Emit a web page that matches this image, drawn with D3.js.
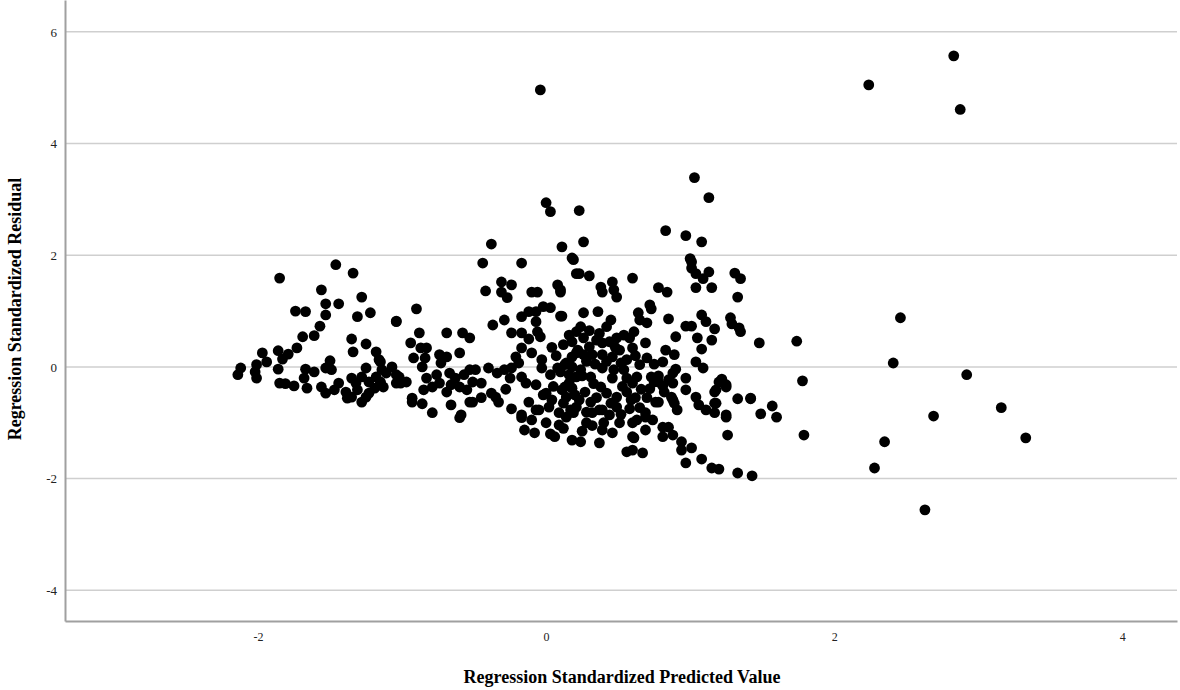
<!DOCTYPE html>
<html>
<head>
<meta charset="utf-8">
<script src="https://cdn.jsdelivr.net/npm/d3@7"></script>
<style>
  body { margin: 0; background: #fff; }
  svg { display: block; }
</style>
</head>
<body>
<script>
// scatter of standardized residuals vs standardized predicted values
var W = 1180, H = 690;
var xTicks = [-2, 0, 2, 4];
var yTicks = [-4, -2, 0, 2, 4, 6];
var xTitle = "Regression Standardized Predicted Value";
var yTitle = "Regression Standardized Residual";

// [predicted, residual]
var outliers = [[-0.04,4.96],[2.24,5.05],[2.83,5.57],[2.875,4.61],[1.74,0.46],[1.78,-0.25],[1.79,-1.22],
  [2.46,0.88],[2.41,0.07],[2.92,-0.14],[3.16,-0.73],[2.69,-0.88],[3.33,-1.27],[2.35,-1.34],[2.28,-1.81],[2.63,-2.56]];

var leftCluster = [[-1.85,1.59],[-1.46,1.83],[-1.34,1.68],[-1.56,1.38],[-1.28,1.25],[-1.53,1.13],[-1.44,1.13],
  [-1.74,1.00],[-1.67,0.99],[-1.53,0.93],[-1.31,0.90],[-1.22,0.97],[-1.04,0.81],[-1.57,0.73],[-1.61,0.56],
  [-1.69,0.54],[-1.35,0.50],[-1.25,0.41],[-1.73,0.34],[-1.34,0.27],[-1.18,0.27],[-1.97,0.25],[-1.86,0.29],
  [-1.79,0.23],[-1.94,0.09],[-1.83,0.14],[-1.86,-0.04],[-2.01,0.04],[-2.12,-0.02],[-2.14,-0.14],[-2.02,-0.09],
  [-2.01,-0.20],[-1.67,-0.04],[-1.61,-0.09],[-1.50,0.11],[-1.53,-0.02],[-1.49,-0.05],[-1.25,-0.02],[-1.15,0.09],
  [-1.07,0.00],[-1.04,-0.14],[-1.85,-0.29],[-1.81,-0.30],[-1.75,-0.34],[-1.68,-0.20],[-1.66,-0.38],[-1.56,-0.36],
  [-1.53,-0.47],[-1.47,-0.41],[-1.44,-0.29],[-1.35,-0.20],[-1.32,-0.29],[-1.28,-0.18],[-1.23,-0.27],[-1.18,-0.18],
  [-1.15,-0.29],[-1.39,-0.45],[-1.35,-0.54],[-1.28,-0.63],[-1.23,-0.47],[-1.19,-0.38],[-1.31,-0.41],[-1.11,-0.11],
  [-1.13,-0.36],[-1.25,-0.54],[-1.38,-0.56],[-1.04,-0.29]];

var centerCluster = [[-0.44,1.86],[-0.17,1.86],[-0.42,1.36],[-0.31,1.52],[-0.24,1.47],[-0.31,1.34],[-0.27,1.24],
  [-0.10,1.34],[-0.06,1.34],[0.08,1.47],[0.10,1.34],[0.19,1.92],[0.21,1.67],[-0.90,1.04],[-1.04,0.82],[-0.88,0.61],
  [-0.69,0.61],[-0.58,0.61],[-0.53,0.52],[-0.37,0.75],[-0.29,0.84],[-0.24,0.61],[-0.17,0.61],[-0.17,0.90],
  [-0.12,0.99],[-0.07,0.99],[-0.02,1.08],[0.03,1.06],[0.10,0.91],[-0.07,0.81],[-0.06,0.63],[-0.04,0.54],
  [0.16,0.57],[0.21,0.63],[-0.94,0.43],[-0.87,0.34],[-0.83,0.34],[-0.92,0.16],[-0.84,0.16],[-0.86,0.00],
  [-0.74,0.22],[-0.69,0.18],[-0.73,0.07],[-0.60,0.25],[-0.17,0.34],[-0.21,0.18],[-0.03,0.13],[-0.03,-0.02],
  [-1.16,0.13],[-1.14,-0.05],[-1.02,-0.18],[-0.97,-0.27],[-1.15,-0.27],[-1.01,-0.29],[-0.83,-0.20],
  [-0.76,-0.14],[-0.67,-0.11],[-0.74,-0.29],[-0.66,-0.32],[-0.63,-0.20],[-0.57,-0.14],[-0.53,-0.05],[-0.49,-0.05],
  [-0.45,-0.29],[-0.40,-0.02],[-0.34,-0.11],[-0.29,-0.05],[-0.24,-0.02],[-0.19,0.07],[-0.17,-0.18],[-0.14,-0.29],
  [-0.07,-0.32],[0.03,-0.14],[0.08,-0.02],[0.14,0.07],[0.18,0.18],[0.22,0.30],[-0.60,-0.36],[-0.55,-0.41],
  [-0.51,-0.27],[-0.93,-0.56],[-0.86,-0.66],[-0.79,-0.82],[-0.85,-0.41],[-0.79,-0.36],[-0.69,-0.45],[-0.66,-0.68],
  [-0.59,-0.86],[-0.51,-0.63],[-0.38,-0.47],[-0.33,-0.63],[-0.35,-0.54],[-0.17,-0.86],[-0.12,-0.63],[-0.07,-0.77],
  [0.00,-0.47],[0.04,-0.59],[0.11,-0.41],[0.16,-0.29],[0.21,-0.18],[0.09,-0.82],[0.17,-0.77],[0.14,-0.90],
  [-0.93,-0.63],[-0.60,-0.91],[-0.53,-0.63],[-0.17,-0.91],[-0.15,-1.13],[-0.08,-1.18],[-0.05,-0.77],[0.00,-1.00],
  [0.06,-1.25],[0.09,-1.04],[0.18,-1.31],[0.24,-1.34],[0.28,-1.00],[0.32,-0.82],[0.37,-1.36],[0.39,-1.13],
  [0.46,-1.18],[0.51,-1.00],[0.39,-0.77],[0.21,-0.72],[0.02,-0.72],
  [-0.02,-0.50],[0.05,-0.35],[0.12,-0.65],[0.20,-0.50],[0.27,-0.45],[0.33,-0.30],[0.35,-0.55],[0.45,-0.65],
  [0.52,-0.85],[0.58,-0.75],[0.62,-0.55],[0.53,-0.35],[0.47,-0.05],[0.42,0.10],[0.34,0.05],[0.28,0.10],
  [0.24,-0.05],[0.07,0.20],[0.04,0.35],[0.12,0.40],[0.30,0.65],[0.37,0.60],[0.48,0.35],[0.62,0.20],
  [0.75,0.05],[0.82,-0.45],[0.70,-0.55],[0.66,-0.40],[0.40,-1.00],[0.32,-1.05],[0.25,-1.15],[0.12,-1.10],
  [0.03,-1.20],[-0.10,-0.95],[-0.24,-0.75],[-0.28,-0.40],[-0.25,-0.20],[-0.45,-0.55],[-0.10,0.25],[-0.12,0.50]];

var upperCluster = [[-0.38,2.20],[0.00,2.94],[0.03,2.78],[0.23,2.80],[0.11,2.15],[0.26,2.24],[1.03,3.39],
  [1.13,3.03],[0.83,2.44],[0.97,2.35],[1.08,2.24],[1.00,1.94],[0.18,1.95],[0.23,1.67],[0.30,1.63],[0.38,1.43],
  [0.39,1.34],[0.46,1.52],[0.47,1.38],[0.49,1.25],[0.60,1.59],[0.78,1.42],[0.84,1.34],[1.01,1.88],[1.01,1.77],
  [1.04,1.67],[1.09,1.58],[1.13,1.70],[1.04,1.42],[1.15,1.42],[1.31,1.68],[1.35,1.58],[1.33,1.25]];

var rightCluster = [[0.10,1.38],[0.11,0.91],[0.26,0.97],[0.36,0.99],[0.45,0.84],[0.42,0.72],[0.24,0.72],
  [0.72,1.11],[0.73,1.04],[0.64,0.97],[0.65,0.84],[0.70,0.79],[0.85,0.86],[0.97,0.73],[1.01,0.73],[1.08,0.93],
  [1.11,0.81],[1.17,0.68],[1.28,0.88],[1.29,0.77],[1.34,0.70],[1.35,0.63],[1.48,0.43],[0.90,0.54],[1.05,0.52],
  [1.15,0.48],[1.08,0.32],[1.04,0.09],[1.09,-0.02],[0.90,-0.04],[0.83,0.30],[0.89,0.22],[0.81,0.09],[0.69,0.43],
  [0.70,0.16],[0.61,0.63],[0.58,0.52],[0.60,0.34],[0.18,0.45],[0.26,0.52],[0.30,0.36],[0.35,0.48],[0.39,0.43],
  [0.44,0.45],[0.49,0.52],[0.54,0.57],[0.51,0.30],[0.46,0.18],[0.39,0.22],[0.32,0.22],[0.26,0.22],[0.21,0.25],
  [0.13,0.04],[0.10,-0.09],[0.18,0.00],[0.16,-0.14],[0.25,-0.16],[0.31,-0.18],[0.39,-0.02],[0.52,0.07],
  [0.56,0.13],[0.65,0.04],[0.54,-0.05],[0.46,-0.20],[0.56,-0.20],[0.63,-0.18],[0.73,-0.18],[0.78,-0.16],
  [0.75,-0.27],[0.88,-0.11],[0.85,-0.23],[0.97,-0.20],[0.97,-0.41],[0.72,-0.39],[0.81,-0.34],[0.76,-0.63],
  [0.87,-0.54],[0.89,-0.65],[1.04,-0.54],[1.18,-0.41],[1.22,-0.22],[1.25,-0.32],[1.17,-0.65],[1.33,-0.57],
  [1.42,-0.56],[1.25,-0.86],[0.38,-0.36],[0.42,-0.47],[0.49,-0.54],[0.56,-0.45],[0.59,-0.59],[0.49,-0.72],
  [0.31,-0.63],[0.23,-0.59],[0.18,-0.38],[0.13,-0.36],[0.14,-0.54],[0.28,-0.81],[0.37,-0.77],[0.44,-0.86],
  [0.65,-0.73],[0.69,-0.90],[0.19,-0.82],[0.56,-1.52],[0.60,-1.49],[0.67,-1.54],[0.60,-1.25],[0.63,-0.95],
  [0.69,-0.82],[1.42,-0.57],[1.49,-0.84],[1.57,-0.70],[1.60,-0.90],[1.25,-0.90],[1.26,-1.22],[1.33,-1.90],
  [1.43,-1.95],[1.20,-1.83],[1.15,-1.81],[1.08,-1.65],[0.97,-1.72],[1.01,-1.45],[0.94,-1.49],[0.94,-1.34],
  [0.88,-1.22],[0.81,-1.25],[0.61,-1.27],[0.69,-1.13],[0.74,-0.95],[0.81,-1.08],[0.85,-1.08],[0.78,-0.63],
  [0.88,-0.59],[0.91,-0.77],[1.06,-0.68],[1.11,-0.77],[1.17,-0.82],[1.18,-0.65],[1.17,-0.45],[1.25,-0.36],
  [1.20,-0.27],[0.88,-0.29],[0.78,-0.27],[0.60,-0.29],[0.60,-1.00]];

var points = outliers.concat(leftCluster, centerCluster, upperCluster, rightCluster);

var svg = d3.select("body").append("svg")
  .attr("width", W)
  .attr("height", H);

var x = d3.scaleLinear().domain([-3.34, 4.38]).range([65, 1177]);
var y = d3.scaleLinear().domain([-4.55, 6.57]).range([621, 0]);

// horizontal gridlines
svg.append("g").selectAll("line").data(yTicks).enter().append("line")
  .attr("x1", x.range()[0]).attr("x2", x.range()[1])
  .attr("y1", function(d) { return y(d) }).attr("y2", function(d) { return y(d) })
  .attr("stroke", "#cfcfcf").attr("stroke-width", 1.5);

// plain hyphen minus like the original
var fmt = function(d) { return String(d) };

var yAxis = svg.append("g").attr("transform", "translate(65,0)")
  .call(d3.axisLeft(y).tickValues(yTicks).tickSize(0).tickPadding(8).tickFormat(fmt));
var xAxis = svg.append("g").attr("transform", "translate(0,621)")
  .call(d3.axisBottom(x).tickValues(xTicks).tickSize(0).tickPadding(11).tickFormat(fmt));

[xAxis, yAxis].forEach(function(g) {
  g.select(".domain").attr("stroke", "#a0a0a0").attr("stroke-width", 2);
  g.selectAll("text").attr("font-family", "'Liberation Serif', 'DejaVu Serif', serif")
    .attr("font-size", 12).attr("fill", "#222");
});
yAxis.selectAll("text").attr("font-size", 13);

svg.append("g").selectAll("circle").data(points).enter().append("circle")
  .attr("cx", function(d) { return x(d[0]) })
  .attr("cy", function(d) { return y(d[1]) })
  .attr("r", 5.4)
  .attr("fill", "#000");

svg.append("text")
  .attr("x", 622).attr("y", 683)
  .attr("text-anchor", "middle")
  .attr("font-family", "'Liberation Serif', serif")
  .attr("font-weight", "bold").attr("font-size", 18)
  .text(xTitle);

svg.append("text")
  .attr("transform", "translate(21,309) rotate(-90)")
  .attr("text-anchor", "middle")
  .attr("font-family", "'Liberation Serif', serif")
  .attr("font-weight", "bold").attr("font-size", 18)
  .text(yTitle);
</script>
</body>
</html>
